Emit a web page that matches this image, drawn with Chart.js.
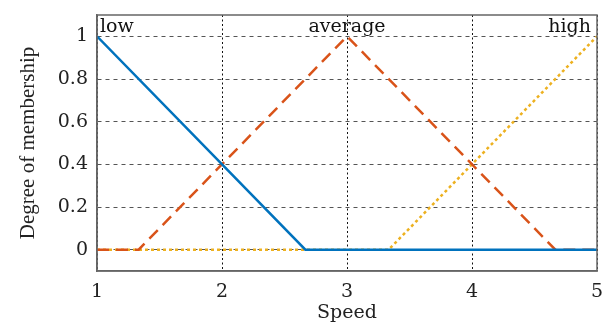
<!DOCTYPE html>
<html>
<head>
<meta charset="utf-8">
<script src="https://cdn.jsdelivr.net/npm/chart.js@4/dist/chart.umd.min.js"></script>
<style>
  body { margin: 0; background: #fff; }
  #wrap { width: 609px; height: 323px; }
</style>
</head>
<body>
<div id="wrap"><canvas id="chart"></canvas></div>
<script>
// membership functions (speed -> degree)
const lowX = [1, 2.667, 5];
const lowY = [1, 0, 0];
const avgX = [1, 1.333, 3, 4.667, 5];
const avgY = [0, 0, 1, 0, 0];
const highX = [1, 3.333, 5];
const highY = [0, 0, 1];

const xTicks = [1, 2, 3, 4, 5];
const yTicks = [0, 0.2, 0.4, 0.6, 0.8, 1];

const setNames = ["low", "average", "high"];
const setPeaks = [1, 3, 5];

const FONT = "'DejaVu Serif', serif";

function pts(xs, ys) {
  return xs.map((x, i) => ({ x: x, y: ys[i] }));
}

// draws the set names along the top of the plot
const setLabels = {
  id: "setLabels",
  afterDatasetsDraw(chart) {
    const ctx = chart.ctx;
    const xs = chart.scales.x;
    const area = chart.chartArea;
    ctx.save();
    ctx.font = "19px " + FONT;
    ctx.fillStyle = "#111";
    ctx.textBaseline = "alphabetic";
    for (let i = 0; i < setNames.length; i++) {
      let px = xs.getPixelForValue(setPeaks[i]);
      if (i == 0) { ctx.textAlign = "left"; px += 3; }
      else if (i == setNames.length - 1) { ctx.textAlign = "right"; px -= 6; }
      else ctx.textAlign = "center";
      ctx.fillText(setNames[i], px, area.top + 17);
    }
    ctx.restore();
  }
};

const ctx = document.getElementById("chart").getContext("2d");
const chart = new Chart(ctx, {
  type: "scatter",
  data: {
    datasets: [
      {
        label: "low",
        data: pts(lowX, lowY),
        showLine: true,
        borderColor: "#0072BD",
        borderWidth: 2.5,
        pointRadius: 0,
      },
      {
        label: "average",
        data: pts(avgX, avgY),
        showLine: true,
        borderColor: "#D95319",
        borderWidth: 2.5,
        borderDash: [12, 7],
        pointRadius: 0,
      },
      {
        label: "high",
        data: pts(highX, highY),
        showLine: true,
        borderColor: "#EDB120",
        borderWidth: 2.5,
        borderDash: [3, 3],
        pointRadius: 0,
      },
    ],
  },
  options: {
    responsive: true,
    maintainAspectRatio: false,
    animation: false,
    layout: { padding: { top: 15, right: 12, left: 0, bottom: 0 } },
    plugins: { legend: { display: false }, tooltip: { enabled: false } },
    scales: {
      x: {
        type: "linear",
        min: 1,
        max: 5,
        afterBuildTicks: (s) => { s.ticks = xTicks.map((v) => ({ value: v })); },
        afterFit: (s) => { s.height = 52; s.paddingLeft = 0; s.paddingRight = 0; },
        ticks: { font: { family: FONT, size: 19 }, color: "#222", padding: 10 },
        grid: { color: "#111", drawTicks: false, lineWidth: 1 },
        border: { display: true, color: "#666", width: 1.5, dash: [2, 2.5] },
        title: { display: true, text: "Speed", font: { family: FONT, size: 19 }, color: "#222", padding: { top: 0, bottom: -1 } },
      },
      y: {
        type: "linear",
        min: -0.1,
        max: 1.1,
        afterBuildTicks: (s) => { s.ticks = yTicks.map((v) => ({ value: v })); },
        afterFit: (s) => { s.width = 97; s.paddingTop = 0; s.paddingBottom = 0; },
        ticks: {
          font: { family: FONT, size: 19 },
          color: "#222",
          padding: 9,
          callback: (v) => String(Math.round(v * 10) / 10),
        },
        grid: { color: "#555", drawTicks: false, lineWidth: 1 },
        border: { display: true, color: "#666", width: 1.5, dash: [4, 4] },
        title: {
          display: true,
          text: "Degree of membership",
          font: { family: "'Liberation Serif', serif", size: 21 },
          color: "#222",
          padding: { top: 16, bottom: 0 },
        },
      },
    },
  },
  plugins: [
    setLabels,
    {
      id: "box",
      afterDraw(chart) {
        const c = chart.ctx, a = chart.chartArea;
        c.save();
        c.strokeStyle = "#666";
        c.lineWidth = 1.5;
        c.strokeRect(a.left, a.top, a.right - a.left, a.bottom - a.top);
        c.restore();
      },
    },
  ],
});
</script>
</body>
</html>
